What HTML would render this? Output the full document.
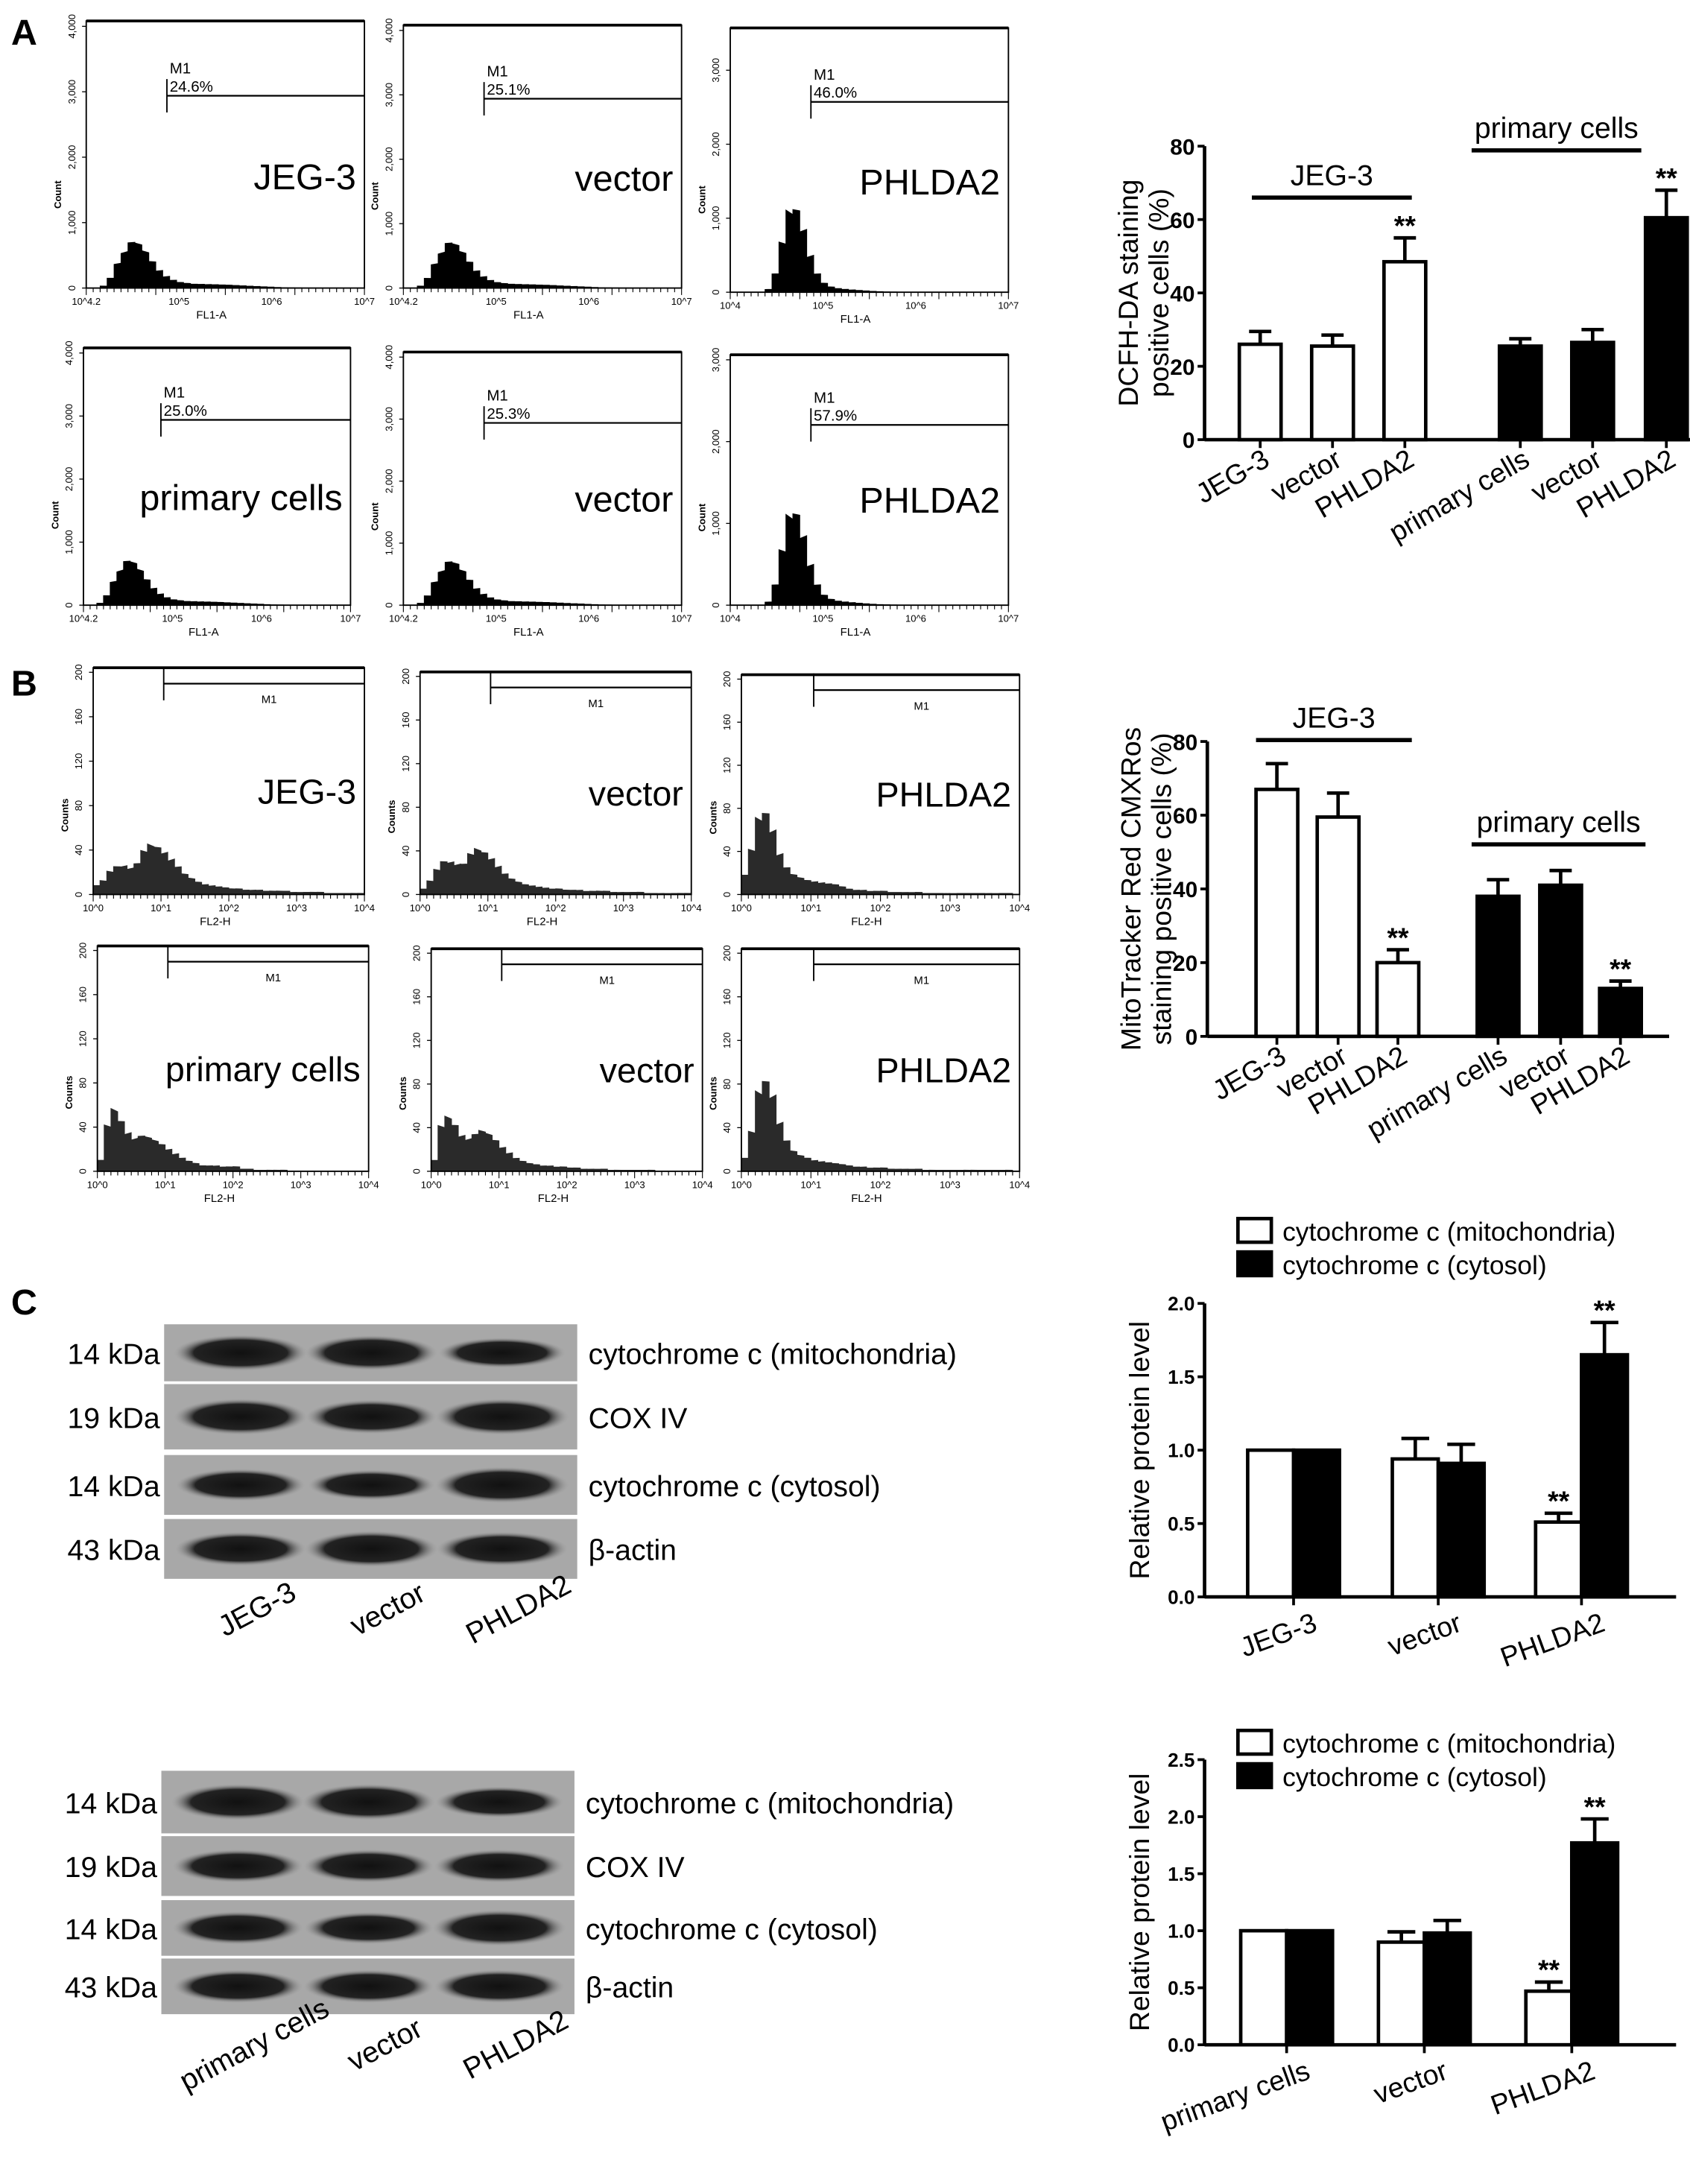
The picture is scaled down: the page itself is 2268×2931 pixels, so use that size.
<!DOCTYPE html>
<html><head><meta charset="utf-8">
<style>
html,body{margin:0;padding:0;background:#fff;}
svg{display:block;font-family:"Liberation Sans",Arial,sans-serif;}
</style></head>
<body>
<svg id="fig" width="2268" height="2931" viewBox="0 0 1215 1570" xmlns="http://www.w3.org/2000/svg">
<text x="8" y="32" font-size="26" font-weight="bold">A</text>
<text x="8" y="500" font-size="26" font-weight="bold">B</text>
<text x="8" y="945" font-size="26" font-weight="bold">C</text>
<g id="layer"></g>
</svg>
<script>
// ---------- DATA ----------
const histALow = [0,0,30,150,380,560,700,660,540,400,270,180,120,85,70,60,58,55,52,48,44,40,35,30,25,20,15,10,6,4,2,0,0,0,0,0,0,0,0,0];
const histAHigh = [0,0,0,0,0,40,250,650,1050,1100,850,500,250,120,70,50,40,32,25,18,12,8,5,3,0,0,0,0,0,0,0,0,0,0,0,0,0,0,0,0];
const histAHigh2 = [0,0,0,0,0,40,250,650,1050,1100,850,500,250,120,70,50,40,32,25,18,12,8,5,3,0,0,0,0,0,0,0,0,0,0,0,0,0,0,0,0];
const histAMax = [4000,4000,3500,4000,4000,3000];
const histAGate = ["24.6%","25.1%","46.0%","25.0%","25.3%","57.9%"];
const histANames = ["JEG-3","vector","PHLDA2","primary cells","vector","PHLDA2"];
const histBJeg = [8,12,20,25,26,24,28,38,43,42,38,32,25,18,14,11,9,8,7,6,5,5,4,4,4,3,3,3,3,2,2,2,2,2,1,1,1,1,1,1];
const histBVec = [5,12,22,30,30,28,28,36,40,38,33,26,19,14,11,9,8,7,6,5,5,4,4,4,3,3,3,3,2,2,2,2,2,1,1,1,1,1,1,1];
const histBPh = [18,40,68,75,60,38,25,18,15,13,12,11,10,9,7,5,4,4,3,3,3,2,2,2,2,2,1,1,1,1,1,1,1,1,1,1,1,1,1,0];
const histBPri = [10,40,54,45,35,30,32,30,27,24,20,16,12,9,7,5,5,5,4,4,4,2,2,1,1,1,1,1,0,0,0,0,0,0,0,0,0,0,0,0];
const histBVec2 = [10,40,48,42,33,30,34,36,33,28,22,17,12,9,7,6,5,5,4,4,3,3,2,2,2,2,1,1,1,1,1,1,1,0,0,0,0,0,0,0];
const histBPh2 = [12,35,70,82,70,45,28,18,14,12,10,9,8,7,6,5,4,4,3,3,3,2,2,2,2,2,1,1,1,1,1,1,1,1,1,1,1,1,1,0];
const histBNames = ["JEG-3","vector","PHLDA2","primary cells","vector","PHLDA2"];
const catA = ["JEG-3","vector","PHLDA2","primary cells","vector","PHLDA2"];
const valA = [26,25.5,48.5,25.5,26.5,60.5];
const errA = [3.5,3,6.5,2,3.5,7.5];
const ticksA = [0,20,40,60,80];
const catB = ["JEG-3","vector","PHLDA2","primary cells","vector","PHLDA2"];
const valB = [67,59.5,20,38,41,13];
const errB = [7,6.5,3.5,4.5,4,2];
const ticksB = [0,20,40,60,80];
const catC1 = ["JEG-3","vector","PHLDA2"];
const mitoC1 = [1,0.94,0.51];
const mitoErrC1 = [0,0.14,0.06];
const cytoC1 = [1,0.91,1.65];
const cytoErrC1 = [0,0.13,0.22];
const ticksC1 = ["0.0","0.5","1.0","1.5","2.0"];
const catC2 = ["primary cells","vector","PHLDA2"];
const mitoC2 = [1,0.9,0.47];
const mitoErrC2 = [0,0.09,0.08];
const cytoC2 = [1,0.98,1.77];
const cytoErrC2 = [0,0.11,0.21];
const ticksC2 = ["0.0","0.5","1.0","1.5","2.0","2.5"];
const blot1 = [[1,0.95,0.7],[1,0.9,1],[0.8,0.7,1],[0.9,1,0.9]];
const blot2 = [[1,1,0.75],[0.85,0.85,0.85],[0.85,0.8,1],[0.85,0.85,0.85]];

// ---------- HELPERS ----------
const NS="http://www.w3.org/2000/svg";
const layer=document.getElementById('layer');
function mk(tag,attrs,parent,text){const e=document.createElementNS(NS,tag);for(const k in attrs)e.setAttribute(k,attrs[k]);if(text!==undefined)e.textContent=text;(parent||layer).appendChild(e);return e;}

function histogram(x0,y0,w,h,bins,ymax,fill,name,label,gate,kind,xlabels,labelSize){
  const g=mk('g',{});
  
  
  const sy=v=>y0+h-(v/ymax)*h*0.98;
  const bw=w/bins.length;
  let d='M'+x0+','+(y0+h);
  bins.forEach((v,i)=>{const j=(Math.sin(i*7.3)*0.06+1);d+=' L'+(x0+i*bw)+','+sy(v*j)+' L'+(x0+(i+1)*bw)+','+sy(v);});
  d+=' L'+(x0+w)+','+(y0+h)+' Z';
  const p=mk('path',{d:d,fill:fill,stroke:fill,'stroke-width':0.5},g);
  
  
  const f=mk('rect',{x:x0,y:y0,width:w,height:h,fill:'none',stroke:'#000','stroke-width':1},g);
  
  
  mk('line',{x1:x0,y1:y0,x2:x0+w,y2:y0,stroke:'#000','stroke-width':2},g);
  const step=kind==='A'?1000:40;
  for(let i=0;i*step<=ymax;i++){const yy=sy(i*step);mk('line',{x1:x0-3,y1:yy,x2:x0,y2:yy,stroke:'#000','stroke-width':0.7},g);
    const lbl=kind==='A'?(i===0?'0':(i+',000')):String(i*step);
    mk('text',{x:x0-8,y:yy,'font-size':7,'text-anchor':'middle',transform:'rotate(-90 '+(x0-8)+' '+yy+')'},g,lbl);}
  mk('text',{x:x0-18,y:y0+h*0.65,'font-size':7,'font-weight':'bold','text-anchor':'middle',transform:'rotate(-90 '+(x0-18)+' '+(y0+h*0.65)+')'},g,kind==='A'?'Count':'Counts');
  for(let i=0;i<=40;i++){const xx=x0+i*w/40;mk('line',{x1:xx,y1:y0+h,x2:xx,y2:y0+h+(i%10===0?5:3),stroke:'#000','stroke-width':0.6},g);}
  xlabels.forEach((l,i)=>{mk('text',{x:x0+i*w/(xlabels.length-1),y:y0+h+12,'font-size':7,'text-anchor':'middle'},g,l);});
  mk('text',{x:x0+w*0.45,y:y0+h+22,'font-size':8,'text-anchor':'middle'},g,kind==='A'?'FL1-A':'FL2-H');
  const gx=x0+w*(kind==='A'?0.29:0.26);
  const gy=y0+h*(kind==='A'?0.28:0.07);
  mk('line',{x1:gx,y1:gy-12,x2:gx,y2:gy+12,stroke:'#000','stroke-width':1},g);
  mk('line',{x1:gx,y1:gy,x2:x0+w,y2:gy,stroke:'#000','stroke-width':1.2},g);
  if(kind==='A'){mk('text',{x:gx+2,y:gy-16,'font-size':11},g,'M1');mk('text',{x:gx+2,y:gy-3,'font-size':11},g,gate);}
  else mk('text',{x:x0+w*0.62,y:gy+14,'font-size':8},g,'M1');
  const lt=mk('text',{x:x0+w*0.97,y:y0+h*(kind==='A'?0.63:0.6),'font-size':labelSize,'text-anchor':'end'},g,label);
  
  
}

const aFrames=[[62,15,200,192],[290,18,200,189],[525,20,200,190],[60,250,192,185],[290,253,200,182],[525,255,200,180]];
const aBins=[histALow,histALow,histAHigh,histALow,histALow,histAHigh2];
const aX1=['10^4.2','10^5','10^6','10^7'];
aFrames.forEach((f,i)=>{histogram(f[0],f[1],f[2],f[3],aBins[i],histAMax[i],'#000',histANames[i].replace(' ','-')+'-a'+i,histANames[i],histAGate[i],'A',i%3===2?['10^4','10^5','10^6','10^7']:aX1,26);});

const bFrames=[[67,480,195,163],[302,483,195,160],[533,485,200,158],[70,680,195,162],[310,682,195,160],[533,682,200,160]];
const bBins=[histBJeg,histBVec,histBPh,histBPri,histBVec2,histBPh2];
bFrames.forEach((f,i)=>{histogram(f[0],f[1],f[2],f[3],bBins[i],200,'#2a2a2a',histBNames[i].replace(' ','-')+'-b'+i,histBNames[i],'','B',['10^0','10^1','10^2','10^3','10^4'],25);});

function barChartAB(cfg){
  const g=mk('g',{});
  
  
  const y=v=>cfg.y0-(v/cfg.vmax)*(cfg.y0-cfg.y1);
  mk('line',{x1:cfg.ax,y1:cfg.y1,x2:cfg.ax,y2:cfg.y0,stroke:'#000','stroke-width':2.5},g);
  mk('line',{x1:cfg.ax,y1:cfg.y0,x2:cfg.xend,y2:cfg.y0,stroke:'#000','stroke-width':2.5},g);
  cfg.ticks.forEach(t=>{const yy=y(t);mk('line',{x1:cfg.ax-5,y1:yy,x2:cfg.ax,y2:yy,stroke:'#000','stroke-width':2},g);
    mk('text',{x:cfg.ax-7,y:yy+6,'font-size':16,'font-weight':'bold','text-anchor':'end'},g,String(t));});
  cfg.vals.forEach((v,i)=>{
    const cx=cfg.xs[i];const bw=cfg.bw;const top=y(v);const e=y(v+cfg.errs[i]);
    const r=mk('rect',{x:cx-bw/2,y:top,width:bw,height:cfg.y0-top,fill:i<3?'#fff':'#000',stroke:'#000','stroke-width':2.5},g);
    
    
    mk('line',{x1:cx,y1:top,x2:cx,y2:e,stroke:'#000','stroke-width':2.5},g);
    mk('line',{x1:cx-8,y1:e,x2:cx+8,y2:e,stroke:'#000','stroke-width':2.5},g);
    mk('line',{x1:cx,y1:cfg.y0,x2:cx,y2:cfg.y0+6,stroke:'#000','stroke-width':2},g);
    if(cfg.sig[i]) mk('text',{x:cx,y:e-2,'font-size':20,'font-weight':'bold','text-anchor':'middle'},g,'**');
    const lx=cx+8, ly=cfg.y0+18;
    mk('text',{x:lx,y:ly,'font-size':20,'text-anchor':'end',transform:'rotate(-30 '+lx+' '+ly+')'},g,cfg.cats[i]);
  });
  const tx=cfg.ax-48, ty=(cfg.y0+cfg.y1)/2;
  cfg.title.forEach((t,k)=>mk('text',{x:tx+k*22,y:ty,'font-size':20,'text-anchor':'middle',transform:'rotate(-90 '+(tx+k*22)+' '+ty+')'},g,t));
  cfg.groups.forEach(gr=>{mk('line',{x1:gr[0],y1:gr[2],x2:gr[1],y2:gr[2],stroke:'#000','stroke-width':3},g);
    mk('text',{x:(gr[0]+gr[1])/2,y:gr[2]-9,'font-size':21,'text-anchor':'middle'},g,gr[3]);});
}
barChartAB({name:'dcfh-bar-chart',ax:866,y0:316,y1:105,vmax:80,xend:1222,ticks:ticksA,vals:valA,errs:errA,cats:catA,
  xs:[906,958,1010,1093,1145,1198],bw:30,sig:[0,0,1,0,0,1],title:['DCFH-DA staining','positive cells (%)'],
  groups:[[900,1015,142,'JEG-3'],[1058,1180,108,'primary cells']]});
barChartAB({name:'mitotracker-bar-chart',ax:868,y0:745,y1:533,vmax:80,xend:1200,ticks:ticksB,vals:valB,errs:errB,cats:catB,
  xs:[918,962,1005,1077,1122,1165],bw:30,sig:[0,0,1,0,0,1],title:['MitoTracker Red CMXRos','staining positive cells (%)'],
  groups:[[903,1015,532,'JEG-3'],[1058,1183,607,'primary cells']]});

function barChartC(cfg){
  const g=mk('g',{});
  
  
  const vmax=parseFloat(cfg.ticks[cfg.ticks.length-1]);
  const y=v=>cfg.y0-(v/vmax)*(cfg.y0-cfg.y1);
  mk('line',{x1:cfg.ax,y1:cfg.y1,x2:cfg.ax,y2:cfg.y0,stroke:'#000','stroke-width':2.5},g);
  mk('line',{x1:cfg.ax,y1:cfg.y0,x2:1205,y2:cfg.y0,stroke:'#000','stroke-width':2.5},g);
  cfg.ticks.forEach(t=>{const yy=y(parseFloat(t));mk('line',{x1:cfg.ax-5,y1:yy,x2:cfg.ax,y2:yy,stroke:'#000','stroke-width':2},g);
    mk('text',{x:cfg.ax-7,y:yy+5,'font-size':14,'font-weight':'bold','text-anchor':'end'},g,t);});
  const bw=33;
  cfg.cats.forEach((c,i)=>{
    const cx=cfg.xs[i];
    [[cfg.mito,cfg.me,'#fff',-1],[cfg.cyto,cfg.ce,'#000',1]].forEach(s=>{
      const v=s[0][i],top=y(v),e=y(v+s[1][i]);const bx=s[3]<0?cx-bw:cx;
      const r=mk('rect',{x:bx,y:top,width:bw,height:cfg.y0-top,fill:s[2],stroke:'#000','stroke-width':2.5},g);
      
      
      if(s[1][i]>0){mk('line',{x1:bx+bw/2,y1:top,x2:bx+bw/2,y2:e,stroke:'#000','stroke-width':2.5},g);
        mk('line',{x1:bx+bw/2-10,y1:e,x2:bx+bw/2+10,y2:e,stroke:'#000','stroke-width':2.5},g);}
      if(c==='PHLDA2') mk('text',{x:bx+bw/2,y:e-2,'font-size':20,'font-weight':'bold','text-anchor':'middle'},g,'**');
    });
    mk('line',{x1:cx,y1:cfg.y0,x2:cx,y2:cfg.y0+6,stroke:'#000','stroke-width':2},g);
    const lx=cx+18, ly=cfg.y0+24;
    mk('text',{x:lx,y:ly,'font-size':20,'text-anchor':'end',transform:'rotate(-20 '+lx+' '+ly+')'},g,c);
  });
  const tx=cfg.ax-40,ty=(cfg.y0+cfg.y1)/2;
  mk('text',{x:tx,y:ty,'font-size':20,'text-anchor':'middle',transform:'rotate(-90 '+tx+' '+ty+')'},g,'Relative protein level');
  const lg=mk('g',{},g);
  
  
  mk('rect',{x:cfg.lx,y:cfg.ly,width:24,height:17,fill:'#fff',stroke:'#000','stroke-width':2.5},lg);
  mk('rect',{x:cfg.lx,y:cfg.ly+24,width:24,height:17,fill:'#000',stroke:'#000','stroke-width':2.5},lg);
  mk('text',{x:cfg.lx+32,y:cfg.ly+16,'font-size':19},lg,'cytochrome c (mitochondria)');
  mk('text',{x:cfg.lx+32,y:cfg.ly+40,'font-size':19},lg,'cytochrome c (cytosol)');
}
barChartC({name:'cytochrome-chart-jeg3',ax:866,y0:1148,y1:937,ticks:ticksC1,cats:catC1,mito:mitoC1,me:mitoErrC1,cyto:cytoC1,ce:cytoErrC1,xs:[930,1034,1137],lx:890,ly:876});
barChartC({name:'cytochrome-chart-primary',ax:866,y0:1470,y1:1265,ticks:ticksC2,cats:catC2,mito:mitoC2,me:mitoErrC2,cyto:cytoC2,ce:cytoErrC2,xs:[925,1024,1130],lx:890,ly:1244});

function blot(x0,rows,bands,kda,names,lanes,name){
  const g=mk('g',{});
  
  
  const defs=mk('defs',{},g);
  const gr=mk('radialGradient',{id:'bg'+name,cx:'50%',cy:'50%',r:'50%'},defs);
  mk('stop',{offset:'0%','stop-color':'#111'},gr);mk('stop',{offset:'70%','stop-color':'#222'},gr);mk('stop',{offset:'100%','stop-color':'#999','stop-opacity':0},gr);
  rows.forEach((r,ri)=>{
    mk('rect',{x:x0,y:r[0],width:297,height:r[1]-r[0],fill:'#a8a8a8'},g);
    const cy=(r[0]+r[1])/2;
    bands[ri].forEach((b,li)=>{const cx=x0+55+li*94;
      const e=mk('ellipse',{cx:cx,cy:cy,rx:40+b*8,ry:6+b*7,fill:'url(#bg'+name+')'},g);
      
      });
    mk('text',{x:x0-3,y:cy+8,'font-size':21,'text-anchor':'end'},g,kda[ri]);
    mk('text',{x:x0+305,y:cy+8,'font-size':21},g,names[ri]);
  });
  lanes.forEach((l,i)=>{const lx=x0+70+i*94, ly=rows[3][1]+28;
    mk('text',{x:lx,y:ly,'font-size':21,'text-anchor':'middle',transform:'rotate(-28 '+lx+' '+ly+')'},g,l);});
}
const kdas=['14 kDa','19 kDa','14 kDa','43 kDa'];
const bnames=['cytochrome c (mitochondria)','COX IV','cytochrome c (cytosol)','β-actin'];
blot(118,[[952,993],[995,1042],[1046,1089],[1092,1135]],blot1,kdas,bnames,['JEG-3','vector','PHLDA2'],'western-blot-jeg3');
blot(116,[[1273,1318],[1320,1363],[1366,1406],[1408,1448]],blot2,kdas,bnames,['primary cells','vector','PHLDA2'],'western-blot-primary');
</script>
</body></html>
